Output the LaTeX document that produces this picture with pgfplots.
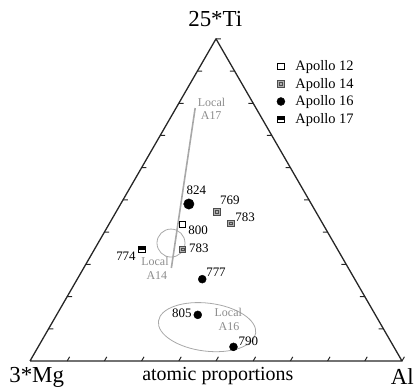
\documentclass[border=0pt]{standalone}
\usepackage{pgfplots}
\pgfplotsset{compat=1.18}
\usepackage{fontspec}
\setmainfont{Liberation Serif}
\definecolor{lgray}{HTML}{A8A8A8}
\definecolor{tgray}{HTML}{8C8C8C}
\definecolor{sqgray}{HTML}{B0B0B0}
\pgfdeclareplotmark{apxiv}{%
  \pgfpathrectangle{\pgfpoint{-\pgfplotmarksize}{-\pgfplotmarksize}}{\pgfpoint{2\pgfplotmarksize}{2\pgfplotmarksize}}%
  \pgfusepathqfillstroke
  \pgfpathrectangle{\pgfpoint{-0.4\pgfplotmarksize}{-0.4\pgfplotmarksize}}{\pgfpoint{0.8\pgfplotmarksize}{0.8\pgfplotmarksize}}%
  \pgfusepathqstroke
}
\pgfdeclareplotmark{apxvii}{%
  \pgfpathrectangle{\pgfpoint{-\pgfplotmarksize}{-\pgfplotmarksize}}{\pgfpoint{2\pgfplotmarksize}{2\pgfplotmarksize}}%
  \pgfsetfillcolor{white}\pgfusepathqfillstroke
  \pgfpathrectangle{\pgfpoint{-\pgfplotmarksize}{-0.2\pgfplotmarksize}}{\pgfpoint{2\pgfplotmarksize}{1.2\pgfplotmarksize}}%
  \pgfsetfillcolor{black}\pgfusepathqfill
}
\begin{document}
\begin{tikzpicture}
\useasboundingbox (0,0) rectangle (417bp,388bp);
\begin{axis}[
  x=3.72bp, y=3.72bp,
  xmin=-8.0645, xmax=104.0323,
  ymin=-7.2581, ymax=97.0430,
  hide axis, clip=false,
  unbounded coords=jump,
  legend cell align=left,
  legend image code/.code={\draw[mark repeat=2,mark phase=2,#1] plot coordinates {(0cm,0cm) (0.15cm,0cm) (0.3cm,0cm)}; \path (0cm,0cm) (0.6cm,0cm);},
  legend style={at={(axis cs:66.2,81.3)}, anchor=north west, draw=none, fill=none,
    font=\fontsize{14.5}{17}\selectfont, inner sep=0pt, row sep=3pt,
    nodes={inner sep=1.6pt}},
]
% triangle frame
\addplot[black!85, line width=1.3pt, line join=round, forget plot]
  coordinates {(0,0) (100,0) (50,86.6) (0,0)};
% edge ticks
\addplot[black!85, line width=1pt, forget plot] coordinates {
 (10,0) (10.65,1.13) (nan,nan) (20,0) (20.65,1.13) (nan,nan)
 (30,0) (30.65,1.13) (nan,nan) (40,0) (40.65,1.13) (nan,nan)
 (50,0) (50.65,1.13) (nan,nan) (60,0) (60.65,1.13) (nan,nan)
 (70,0) (70.65,1.13) (nan,nan) (80,0) (80.65,1.13) (nan,nan)
 (90,0) (90.65,1.13) (nan,nan) (100,0) (100.65,1.13) (nan,nan)
 (5,8.66) (6.3,8.66) (nan,nan) (10,17.32) (11.3,17.32) (nan,nan)
 (15,25.98) (16.3,25.98) (nan,nan) (20,34.64) (21.3,34.64) (nan,nan)
 (25,43.3) (26.3,43.3) (nan,nan) (30,51.96) (31.3,51.96) (nan,nan)
 (35,60.62) (36.3,60.62) (nan,nan) (40,69.28) (41.3,69.28) (nan,nan)
 (45,77.94) (46.3,77.94) (nan,nan) (50,86.6) (51.3,86.6) (nan,nan)
 (95,8.66) (93.7,8.66) (nan,nan) (90,17.32) (88.7,17.32) (nan,nan)
 (85,25.98) (83.7,25.98) (nan,nan) (80,34.64) (78.7,34.64) (nan,nan)
 (75,43.3) (73.7,43.3) (nan,nan) (70,51.96) (68.7,51.96) (nan,nan)
 (65,60.62) (63.7,60.62) (nan,nan) (60,69.28) (58.7,69.28) (nan,nan)
 (55,77.94) (53.7,77.94)
};
% Local A17 trend line
\addplot[lgray, line width=1.6pt, forget plot] coordinates {(44.4,68.0) (38.0,25.0)};
% Apollo 12
\addplot[only marks, mark=square*, mark size=3.2bp, mark options={draw=black, fill=white, line width=0.6pt}]
  coordinates {(41.0,36.7)};
\addlegendentry{Apollo 12}
% Apollo 14
\addplot[only marks, mark=apxiv, mark size=3.2bp, mark options={draw=black!70, fill=sqgray, line width=0.6pt}]
  coordinates {(50.2,40.1) (54.0,37.0) (41.0,30.0)};
\addlegendentry{Apollo 14}
% Apollo 16
\addplot[only marks, mark=*, mark size=4bp, mark options={draw=black, fill=black}]
  coordinates {(46.3,22.0) (45.1,12.4) (54.7,3.8)};
\addlegendentry{Apollo 16}
% Apollo 17
\addplot[only marks, mark=apxvii, mark size=3.2bp, mark options={draw=black, line width=0.6pt}]
  coordinates {(30.0,30.1)};
\addlegendentry{Apollo 17}
\addplot[only marks, mark=*, mark size=5.2bp, mark options={draw=black, fill=black}, forget plot]
  coordinates {(42.7,42.2)};
% local fields
\draw[lgray, line width=0.8pt] (axis cs:37.9,31.7) circle [radius=14bp];
\draw[lgray, line width=0.8pt] (axis cs:47.6,9.1) ellipse [x radius=49bp, y radius=24bp, rotate=-7];
% labels
\begin{scope}[every node/.style={font=\fontsize{13}{15}\selectfont, inner sep=0pt}]
\node at (axis cs:44.7,46.0) {824};
\node at (axis cs:53.7,43.1) {769};
\node at (axis cs:57.8,38.7) {783};
\node at (axis cs:45.2,35.2) {800};
\node at (axis cs:45.4,30.4) {783};
\node at (axis cs:50.0,23.9) {777};
\node at (axis cs:25.8,28.2) {774};
\node at (axis cs:40.8,12.8) {805};
\node at (axis cs:58.7,5.2) {790};
\end{scope}
\begin{scope}[every node/.style={font=\fontsize{12}{14}\selectfont, text=tgray, inner sep=0pt}]
\node at (axis cs:48.8,69.5) {Local};
\node at (axis cs:48.7,65.9) {A17};
\node at (axis cs:33.6,26.7) {Local};
\node at (axis cs:34.1,23.1) {A14};
\node at (axis cs:53.3,13.0) {Local};
\node at (axis cs:53.5,9.2) {A16};
\end{scope}
\node[font=\fontsize{23}{26}\selectfont, inner sep=0pt] at (axis cs:49.8,91.9) {25*Ti};
\node[font=\fontsize{23}{26}\selectfont, inner sep=0pt] at (axis cs:1.8,-4.4) {3*Mg};
\node[font=\fontsize{23}{26}\selectfont, inner sep=0pt] at (axis cs:100.1,-4.2) {Al};
\node[font=\fontsize{20}{23}\selectfont, inner sep=0pt] at (axis cs:50.5,-4.0) {atomic proportions};
\end{axis}
\end{tikzpicture}
\end{document}
